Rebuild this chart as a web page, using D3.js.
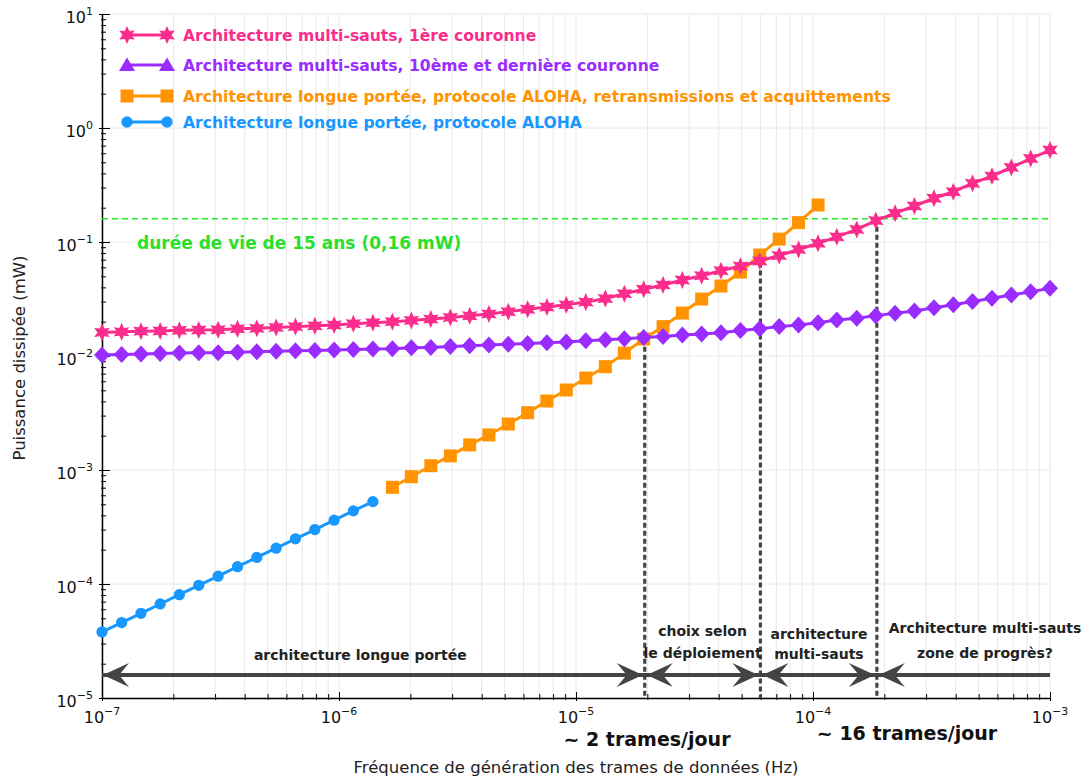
<!DOCTYPE html>
<html>
<head>
<meta charset="utf-8">
<script src="https://cdn.jsdelivr.net/npm/d3@7"></script>
<style>
body { margin: 0; background: #fff; }
svg { display: block; }
text { font-family: "DejaVu Sans", sans-serif; }
</style>
</head>
<body>
<svg width="1087" height="780"></svg>
<script>
// frequencies (Hz), shared by all series
var freq = [1.00e-7,1.21e-7,1.46e-7,1.76e-7,2.12e-7,2.56e-7,3.09e-7,3.73e-7,4.50e-7,5.43e-7,
    6.55e-7,7.91e-7,9.54e-7,1.15e-6,1.39e-6,1.68e-6,2.02e-6,2.44e-6,2.95e-6,3.56e-6,
    4.29e-6,5.18e-6,6.25e-6,7.54e-6,9.10e-6,1.10e-5,1.33e-5,1.60e-5,1.93e-5,2.33e-5,
    2.81e-5,3.39e-5,4.09e-5,4.94e-5,5.96e-5,7.20e-5,8.69e-5,1.05e-4,1.26e-4,1.53e-4,
    1.84e-4,2.22e-4,2.68e-4,3.24e-4,3.91e-4,4.71e-4,5.69e-4,6.87e-4,8.29e-4,1.00e-3];

// puissance dissipee (mW)
var pinkVals = [0.0161,0.0163,0.0165,0.0166,0.0168,0.0169,0.0170,0.0173,0.0175,0.0178,
    0.0181,0.0184,0.0187,0.0192,0.0196,0.0200,0.0205,0.0211,0.0218,0.0225,
    0.0234,0.0245,0.0257,0.0269,0.0281,0.0297,0.0319,0.0352,0.0385,0.0420,
    0.0464,0.0506,0.0560,0.0615,0.0681,0.0761,0.0860,0.0974,0.111,0.129,
    0.154,0.179,0.207,0.242,0.276,0.327,0.379,0.451,0.540,0.641];
var purpleVals = [0.0102,0.0103,0.0104,0.0105,0.0106,0.0107,0.0107,0.0108,0.0109,0.0110,
    0.0111,0.0112,0.0113,0.0114,0.0115,0.0116,0.0118,0.0119,0.0121,0.0123,
    0.0125,0.0127,0.0129,0.0131,0.0133,0.0136,0.0139,0.0142,0.0145,0.0148,
    0.0153,0.0156,0.0160,0.0167,0.0173,0.0181,0.0187,0.0196,0.0207,0.0214,
    0.0226,0.0237,0.0248,0.0265,0.0282,0.0301,0.0321,0.0343,0.0366,0.0392];
var orangeStart = 15;
var orangeVals = [7.05e-4,8.73e-4,1.09e-3,1.33e-3,1.66e-3,2.03e-3,2.53e-3,3.18e-3,4.03e-3,5.03e-3,
    6.41e-3,8.06e-3,1.06e-2,1.41e-2,1.81e-2,2.38e-2,3.16e-2,4.11e-2,5.45e-2,7.69e-2,
    0.106,0.148,0.211];
var blueVals = [3.80e-5,4.59e-5,5.53e-5,6.68e-5,8.06e-5,9.73e-5,1.17e-4,1.42e-4,1.71e-4,2.06e-4,
    2.49e-4,3.00e-4,3.63e-4,4.38e-4,5.28e-4];

var lifetimeLimit = 0.16;
var cutFreq = [1.95e-5, 6.0e-5, 1.86e-4];
var cutTop = [0.0142, 0.066, 0.16];
var arrowLevel = 1.59e-5;

var xExps = [-7, -6, -5, -4, -3];
var yExps = [1, 0, -1, -2, -3, -4, -5];

var legendLabels = [
    "Architecture multi-sauts, 1ère couronne",
    "Architecture multi-sauts, 10ème et dernière couronne",
    "Architecture longue portée, protocole ALOHA, retransmissions et acquittements",
    "Architecture longue portée, protocole ALOHA"
];
var zoneLabels = [
    ["architecture longue portée"],
    ["choix selon", "le déploiement"],
    ["architecture", "multi-sauts"],
    ["Architecture multi-sauts", "zone de progrès?"]
];
var zoneLabelFreq = [1.23e-6, 3.42e-5, 1.06e-4, 5.32e-4];

var colors = { pink: "#fb2c8c", purple: "#9a2cff", orange: "#ff9300", blue: "#1897ff",
    green: "#22ee22", dark: "#444444" };

var svg = d3.select("svg");
var x = d3.scaleLog().domain([1e-7, 1e-3]).range([102, 1050]);
var y = d3.scaleLog().domain([1e-5, 10]).range([698, 14]);

// grid
var grid = svg.append("g").attr("stroke", "#e8e8e8").attr("stroke-width", 1);
grid.selectAll(".gx").data(x.ticks()).enter().append("line")
    .attr("x1", d => x(d)).attr("x2", d => x(d)).attr("y1", y(10)).attr("y2", y(1e-5));
grid.selectAll(".gy").data(yExps.map(e => Math.pow(10, e))).enter().append("line")
    .attr("x1", x(1e-7)).attr("x2", x(1e-3)).attr("y1", d => y(d)).attr("y2", d => y(d));

// axes
var isMajor = function (d) { return Math.abs(Math.log10(d) - Math.round(Math.log10(d))) < 1e-6; };

var axX = svg.append("g").attr("transform", "translate(0," + y(1e-5) + ")")
    .call(d3.axisBottom(x).tickValues(x.ticks()).tickFormat("").tickSizeOuter(0));
axX.selectAll(".tick line").attr("y1", d => isMajor(d) ? 3 : 2).attr("y2", d => isMajor(d) ? -6 : -4);
var axY = svg.append("g").attr("transform", "translate(" + x(1e-7) + ",0)")
    .call(d3.axisLeft(y).tickValues(y.ticks()).tickFormat("").tickSizeOuter(0));
axY.selectAll(".tick line").attr("x1", d => isMajor(d) ? -3 : -1).attr("x2", d => isMajor(d) ? 8 : 4);
svg.selectAll(".domain").attr("stroke", "#000").attr("stroke-width", 1.5);
svg.selectAll(".tick line").attr("stroke", "#000");

// tick labels with superscripts
function powLabel(sel, e) {
    sel.append("tspan").text("10");
    sel.append("tspan").attr("dy", -8).attr("font-size", 11).text(e < 0 ? "\u2212" + (-e) : e);
}
xExps.forEach(function (e) {
    var t = svg.append("text").attr("x", x(Math.pow(10, e))).attr("y", 723)
        .attr("text-anchor", "middle").attr("font-size", 16).attr("fill", "#111");
    powLabel(t, e);
});
yExps.forEach(function (e) {
    var t = svg.append("text").attr("x", 93).attr("y", y(Math.pow(10, e)) + 9)
        .attr("text-anchor", "end").attr("font-size", 16).attr("fill", "#111");
    powLabel(t, e);
});

svg.append("text").attr("x", 576).attr("y", 773).attr("text-anchor", "middle")
    .attr("font-size", 16.5).attr("fill", "#222")
    .text("Fréquence de génération des trames de données (Hz)");
svg.append("text").attr("transform", "translate(25,358) rotate(-90)").attr("text-anchor", "middle")
    .attr("font-size", 16.5).attr("fill", "#222").text("Puissance dissipée (mW)");

// lifetime threshold
svg.append("line").attr("x1", x(1e-7)).attr("x2", x(1e-3))
    .attr("y1", y(lifetimeLimit)).attr("y2", y(lifetimeLimit))
    .attr("stroke", colors.green).attr("stroke-width", 1.6).attr("stroke-dasharray", "6,4");
svg.append("text").attr("x", 137).attr("y", 249).attr("font-size", 17).attr("font-weight", "bold")
    .attr("fill", "#2adf2a").text("durée de vie de 15 ans (0,16 mW)");

// vertical cuts
svg.append("g").selectAll("line").data(cutFreq).enter().append("line")
    .attr("x1", d => x(d)).attr("x2", d => x(d))
    .attr("y1", (d, i) => y(cutTop[i])).attr("y2", y(1e-5))
    .attr("stroke", colors.dark).attr("stroke-width", 3.2).attr("stroke-dasharray", "5,3");

// zone arrows
var bounds = [1e-7].concat(cutFreq).concat([1e-3]);
var ay = y(arrowLevel);
svg.append("line").attr("x1", x(1e-7)).attr("x2", x(1e-3)).attr("y1", ay).attr("y2", ay)
    .attr("stroke", colors.dark).attr("stroke-width", 4);
function head(px, dir) {
    // dir = -1 points left, +1 points right
    var p = [[px, ay], [px - dir * 26, ay - 12], [px - dir * 16, ay], [px - dir * 26, ay + 12]];
    svg.append("path").attr("d", "M" + p.join("L") + "Z").attr("fill", colors.dark);
}
for (var i = 0; i < bounds.length - 1; i++) {
    head(x(bounds[i]) + (i === 0 ? 1 : 2), -1);
    if (i < bounds.length - 2) head(x(bounds[i + 1]) - 2, 1);
}
var zoneY = [[660], [636, 658], [639, 659], [633, 658]];
zoneLabels.forEach(function (lines, i) {
    lines.forEach(function (s, j) {
        svg.append("text").attr("x", x(zoneLabelFreq[i])).attr("y", zoneY[i][j])
            .attr("text-anchor", "middle").attr("font-size", 14).attr("font-weight", "bold")
            .attr("fill", "#222").text(s);
    });
});
svg.append("text").attr("x", 647).attr("y", 746).attr("text-anchor", "middle")
    .attr("font-size", 19).attr("font-weight", "bold").attr("fill", "#111").text("~ 2 trames/jour");
svg.append("text").attr("x", 907).attr("y", 740).attr("text-anchor", "middle")
    .attr("font-size", 19).attr("font-weight", "bold").attr("fill", "#111").text("~ 16 trames/jour");

// markers
function starPath(r) {
    var pts = d3.range(12).map(function (k) {
        var a = k * Math.PI / 6 - Math.PI / 2, rr = k % 2 ? r * 0.5 : r;
        return [rr * Math.cos(a), rr * Math.sin(a)];
    });
    return "M" + pts.join("L") + "Z";
}
var shapes = {
    star: starPath(9),
    diamond: "M0,-8.5L8,0L0,8.5L-8,0Z",
    square: "M-6.5,-6.5H6.5V6.5H-6.5Z",
    circle: d3.symbol(d3.symbolCircle, 100)(),
    triangle: "M0,-7.5L8,6L-8,6Z"
};

var line = d3.line().x(d => x(d.x)).y(d => y(d.y));
var series = [
    { color: colors.blue, shape: "circle", data: blueVals.map((v, i) => ({ x: freq[i], y: v })) },
    { color: colors.orange, shape: "square", data: orangeVals.map((v, i) => ({ x: freq[i + orangeStart], y: v })) },
    { color: colors.purple, shape: "diamond", data: purpleVals.map((v, i) => ({ x: freq[i], y: v })) },
    { color: colors.pink, shape: "star", data: pinkVals.map((v, i) => ({ x: freq[i], y: v })) }
];
series.forEach(function (s) {
    svg.append("path").datum(s.data).attr("d", line).attr("fill", "none")
        .attr("stroke", s.color).attr("stroke-width", 3);
    svg.append("g").selectAll("path").data(s.data).enter().append("path")
        .attr("transform", d => "translate(" + x(d.x) + "," + y(d.y) + ")")
        .attr("d", shapes[s.shape]).attr("fill", s.color);
});

// legend
var legendY = [35, 65, 96, 122];
var legendShape = ["star", "triangle", "square", "circle"];
var legendColor = [colors.pink, colors.purple, colors.orange, colors.blue];
legendLabels.forEach(function (lab, i) {
    var g = svg.append("g").attr("transform", "translate(0," + legendY[i] + ")");
    g.append("line").attr("x1", 127).attr("x2", 167).attr("stroke", legendColor[i]).attr("stroke-width", 3);
    [127, 167].forEach(function (px) {
        g.append("path").attr("transform", "translate(" + px + ",0)")
            .attr("d", shapes[legendShape[i]]).attr("fill", legendColor[i]);
    });
    g.append("text").attr("x", 183).attr("y", 5.5).attr("font-size", 15.6).attr("font-weight", "bold")
        .attr("fill", legendColor[i]).text(lab);
});
</script>
</body>
</html>
